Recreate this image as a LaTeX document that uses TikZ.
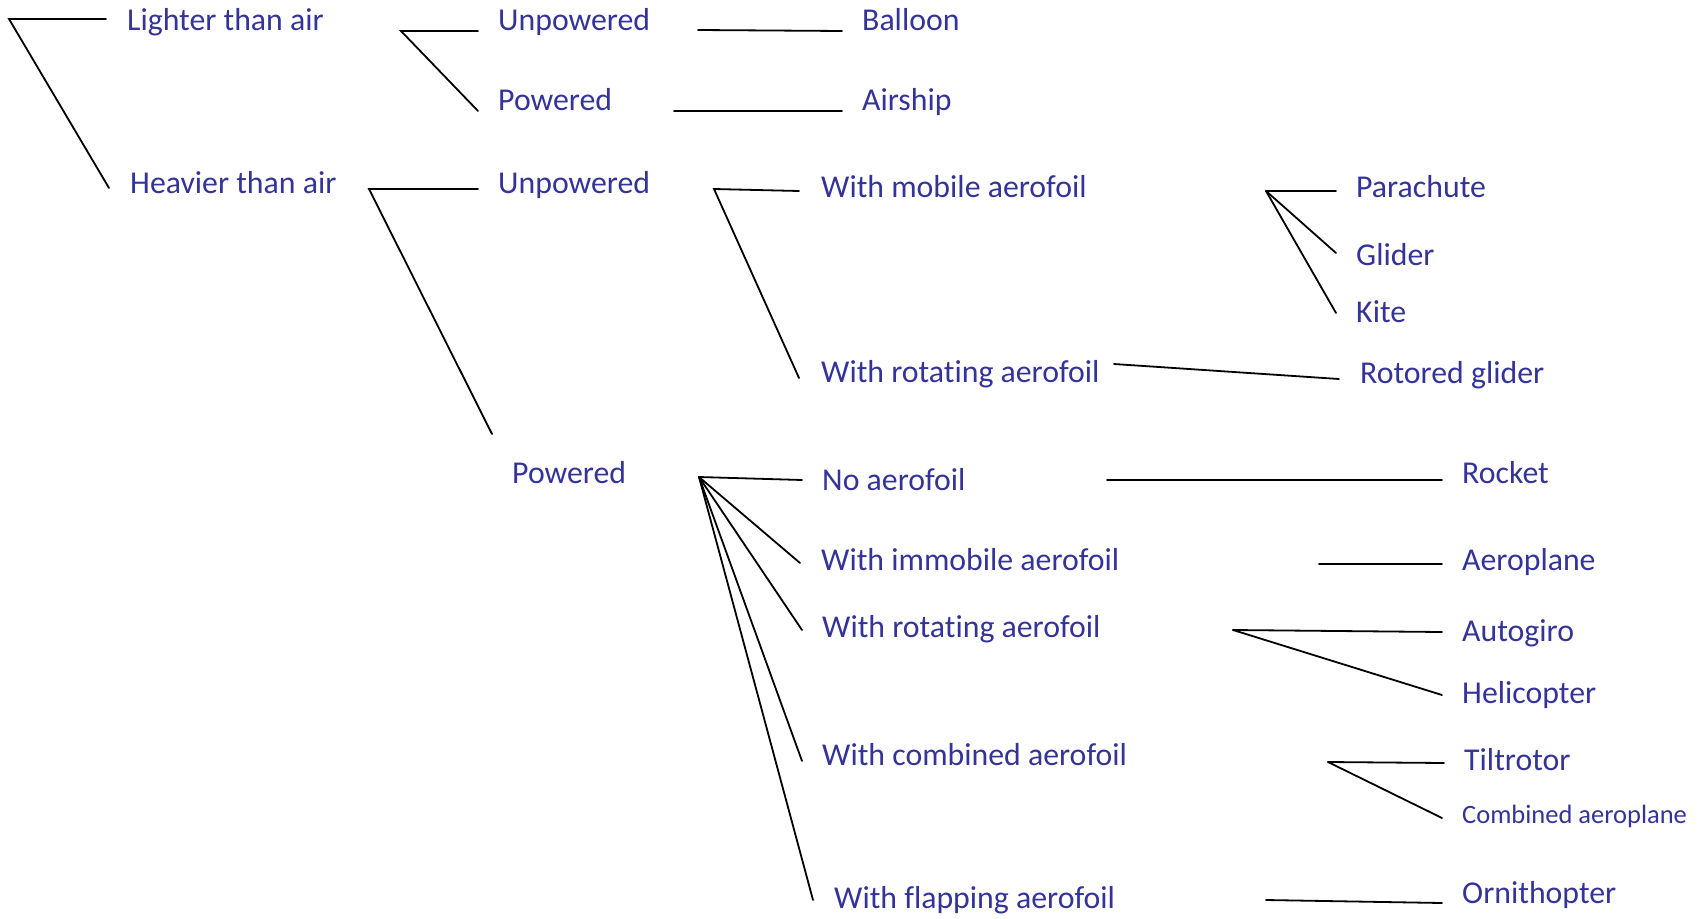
\documentclass[tikz,border=0pt]{standalone}
\usepackage{fontspec}
\setmainfont{Carlito}[Ligatures={NoCommon,NoContextual,NoRare},Contextuals=NoAlternate]
\definecolor{txtblue}{RGB}{51,51,153}
\begin{document}
\begin{tikzpicture}[x=1pt,y=-1pt,
  lbl/.style={anchor=base west,inner sep=0pt,text=txtblue,font=\fontsize{31.8}{34}\selectfont},
  small/.style={lbl,font=\fontsize{26.5}{29}\selectfont},
  conn/.style={draw=black,line width=1.8pt,line cap=round}]
\useasboundingbox (0,0) rectangle (1704,918);
% text nodes
\node[lbl] (lta) at (127,30) {Lighter than air};
\node[lbl] (hta) at (130,193) {Heavier than air};
\node[lbl] (unp1) at (498,30) {Unpowered};
\node[lbl] (pow1) at (498,110) {Powered};
\node[lbl] (unp2) at (498,193) {Unpowered};
\node[lbl] (pow2) at (512,483) {Powered};
\node[lbl] (balloon) at (862,30) {Balloon};
\node[lbl] (airship) at (862,110) {Airship};
\node[lbl] (mobile) at (821,197) {With mobile aerofoil};
\node[lbl] (rotU) at (821,382) {With rotating aerofoil};
\node[lbl] (parachute) at (1356,197) {Parachute};
\node[lbl] (glider) at (1356,265) {Glider};
\node[lbl] (kite) at (1356,322) {Kite};
\node[lbl] (rotored) at (1360,383) {Rotored glider};
\node[lbl] (noaero) at (822,490) {No aerofoil};
\node[lbl] (immob) at (821,570) {With immobile aerofoil};
\node[lbl] (rotP) at (822,637) {With rotating aerofoil};
\node[lbl] (comb) at (822,765) {With combined aerofoil};
\node[lbl] (flap) at (834,908) {With flapping aerofoil};
\node[lbl] (rocket) at (1462,483) {Rocket};
\node[lbl] (aeroplane) at (1462,570) {Aeroplane};
\node[lbl] (autogiro) at (1462,641) {Autogiro};
\node[lbl] (heli) at (1462,703) {Helicopter};
\node[lbl] (tilt) at (1464,770) {Tiltrotor};
\node[small] (combaero) at (1462,823) {Combined aeroplane};
\node[lbl] (orni) at (1462,903) {Ornithopter};
% connector points
\coordinate (r0) at (9,19);
\coordinate (r0a) at (106,19);
\coordinate (r0b) at (109,188);
\coordinate (l1) at (401,31);
\coordinate (l1a) at (478,31);
\coordinate (l1b) at (478,111);
\coordinate (b0) at (698,30);
\coordinate (b1) at (842,31);
\coordinate (a0) at (674,111);
\coordinate (a1) at (842,111);
\coordinate (h1) at (369,189);
\coordinate (h1a) at (478,189);
\coordinate (h1b) at (492,434);
\coordinate (u1) at (714,189);
\coordinate (u1a) at (799,191);
\coordinate (u1b) at (799,378);
\coordinate (m1) at (1266,191);
\coordinate (m1a) at (1336,191);
\coordinate (m1b) at (1336,253);
\coordinate (m1c) at (1336,313);
\coordinate (rg0) at (1114,364);
\coordinate (rg1) at (1339,379);
\coordinate (p1) at (699,477);
\coordinate (p1a) at (802,480);
\coordinate (p1b) at (800,563);
\coordinate (p1c) at (802,630);
\coordinate (p1d) at (802,761);
\coordinate (p1e) at (813,900);
\coordinate (rk0) at (1107,480);
\coordinate (rk1) at (1442,480);
\coordinate (ap0) at (1319,564);
\coordinate (ap1) at (1442,564);
\coordinate (ag) at (1233,630);
\coordinate (ag1) at (1442,632);
\coordinate (ag2) at (1442,695);
\coordinate (tt) at (1328,762);
\coordinate (tt1) at (1444,763);
\coordinate (tt2) at (1442,818);
\coordinate (or0) at (1266,900);
\coordinate (or1) at (1442,903);
% connectors
\draw[conn] (r0a) -- (r0) -- (r0b);
\draw[conn] (l1a) -- (l1) -- (l1b);
\draw[conn] (b0) -- (b1);
\draw[conn] (a0) -- (a1);
\draw[conn] (h1a) -- (h1) -- (h1b);
\draw[conn] (u1a) -- (u1) -- (u1b);
\draw[conn] (m1) -- (m1a);
\draw[conn] (m1) -- (m1b);
\draw[conn] (m1) -- (m1c);
\draw[conn] (rg0) -- (rg1);
\draw[conn] (p1) -- (p1a);
\draw[conn] (p1) -- (p1b);
\draw[conn] (p1) -- (p1c);
\draw[conn] (p1) -- (p1d);
\draw[conn] (p1) -- (p1e);
\draw[conn] (rk0) -- (rk1);
\draw[conn] (ap0) -- (ap1);
\draw[conn] (ag) -- (ag1);
\draw[conn] (ag) -- (ag2);
\draw[conn] (tt) -- (tt1);
\draw[conn] (tt) -- (tt2);
\draw[conn] (or0) -- (or1);
\end{tikzpicture}
\end{document}
